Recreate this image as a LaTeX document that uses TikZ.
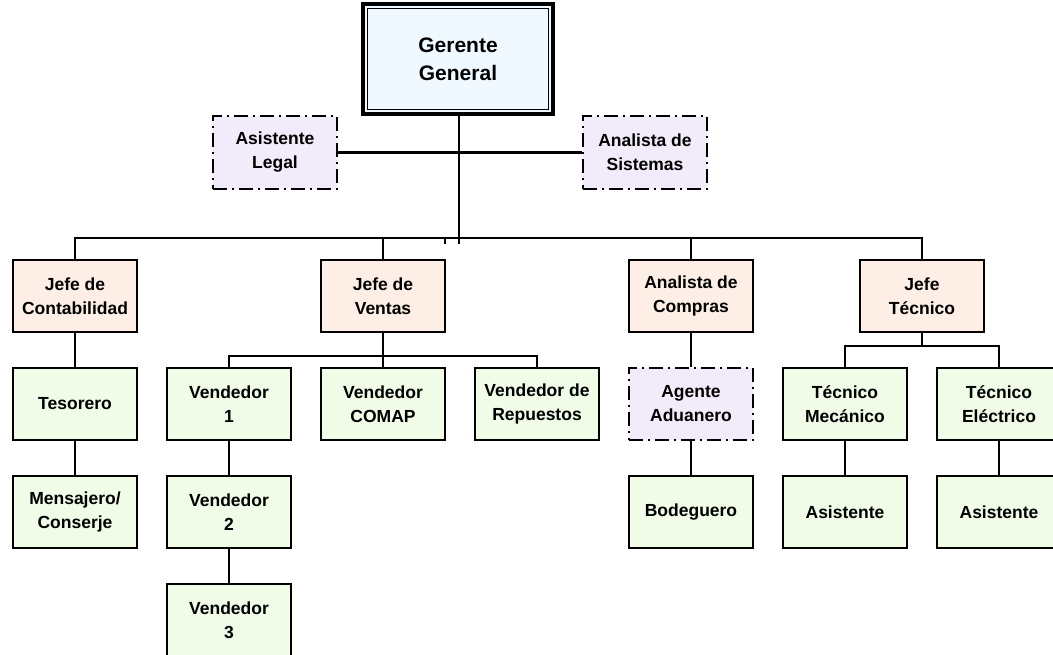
\documentclass[tikz,border=0pt]{standalone}
\usepackage{fontspec}
\setmainfont{Liberation Sans}
\definecolor{skyfill}{RGB}{240,249,255}
\definecolor{peachfill}{RGB}{253,239,230}
\definecolor{greenfill}{RGB}{240,251,232}
\definecolor{lilacfill}{RGB}{242,235,249}
\begin{document}
\begin{tikzpicture}[x=1pt,y=-1pt,
  box/.style={draw=black, line width=2.9pt, minimum width=124pt, minimum height=72pt,
    inner sep=0pt, align=center, font=\bfseries\fontsize{17.5}{24}\selectfont},
  boss/.style={box, fill=peachfill},
  staff/.style={box, fill=greenfill},
  advisor/.style={box, fill=lilacfill, minimum height=73pt,
    dash pattern=on 14pt off 5pt on 2pt off 5pt},
  topbox/.style={draw=black, line width=3.2pt, fill=skyfill, minimum width=190pt,
    minimum height=110pt, inner sep=0pt, align=center,
    font=\bfseries\fontsize{21}{28}\selectfont},
  link/.style={draw=black, line width=2.4pt},
]
\useasboundingbox (0,0) rectangle (1053,655);
\clip (0,0) rectangle (1053,655);

% top management
\node[topbox] (gg) at (458,59) {Gerente\\General};
\draw[line width=1.5pt] ([shift={(6pt,-6pt)}]gg.north west) rectangle ([shift={(-6pt,6pt)}]gg.south east);

% staff advisors
\node[advisor] (legal) at (275,152.5) {Asistente\\Legal};
\node[advisor] (sist) at (645,152.5) {Analista de\\Sistemas};

% department heads
\node[boss] (cont) at (75,296) {Jefe de\\Contabilidad};
\node[boss] (vent) at (383,296) {Jefe de\\Ventas};
\node[boss] (comp) at (691,296) {Analista de\\Compras};
\node[boss] (tecn) at (922,296) {Jefe\\Técnico};

% second level
\node[staff] (teso) at (75,404) {Tesorero};
\node[staff] (v1) at (229,404) {Vendedor\\1};
\node[staff] (vcomap) at (383,404) {Vendedor\\COMAP};
\node[staff] (vrep) at (537,404) {Vendedor de\\Repuestos};
\node[advisor, minimum height=72pt] (adua) at (691,404) {Agente\\Aduanero};
\node[staff] (tmec) at (845,404) {Técnico\\Mecánico};
\node[staff] (telec) at (999,404) {Técnico\\Eléctrico};

% third level
\node[staff] (mens) at (75,512) {Mensajero/\\Conserje};
\node[staff] (v2) at (229,512) {Vendedor\\2};
\node[staff] (bode) at (691,512) {Bodeguero};
\node[staff] (asis1) at (845,512) {Asistente};
\node[staff] (asis2) at (999,512) {Asistente};

% fourth level
\node[staff] (v3) at (229,620) {Vendedor\\3};

% connectors
\coordinate (bus) at (459,238);
\coordinate (busend) at (459,244);
\coordinate (tick) at (445,238);
\coordinate (tickend) at (445,244);
\draw[link] (gg.south -| bus) -- (busend);
\draw[link] (tick) -- (tickend);
\draw[link] (legal.east) -- (sist.west);
\draw[link] (cont.north) -- (cont.north |- bus) -- (tecn.north |- bus) -- (tecn.north);
\draw[link] (vent.north) -- (vent.north |- bus);
\draw[link] (comp.north) -- (comp.north |- bus);

\coordinate (vbus) at (383,356);
\draw[link] (vent.south) -- (vbus);
\draw[link] (v1.north) -- (v1.north |- vbus) -- (vrep.north |- vbus) -- (vrep.north);
\draw[link] (vbus) -- (vcomap.north);

\coordinate (tbus) at (922,346);
\draw[link] (tecn.south) -- (tbus);
\draw[link] (tmec.north) -- (tmec.north |- tbus) -- (telec.north |- tbus) -- (telec.north);

\draw[link] (cont.south) -- (teso.north);
\draw[link] (teso.south) -- (mens.north);
\draw[link] (v1.south) -- (v2.north);
\draw[link] (v2.south) -- (v3.north);
\draw[link] (comp.south) -- (adua.north);
\draw[link] (adua.south) -- (bode.north);
\draw[link] (tmec.south) -- (asis1.north);
\draw[link] (telec.south) -- (asis2.north);
\end{tikzpicture}
\end{document}
